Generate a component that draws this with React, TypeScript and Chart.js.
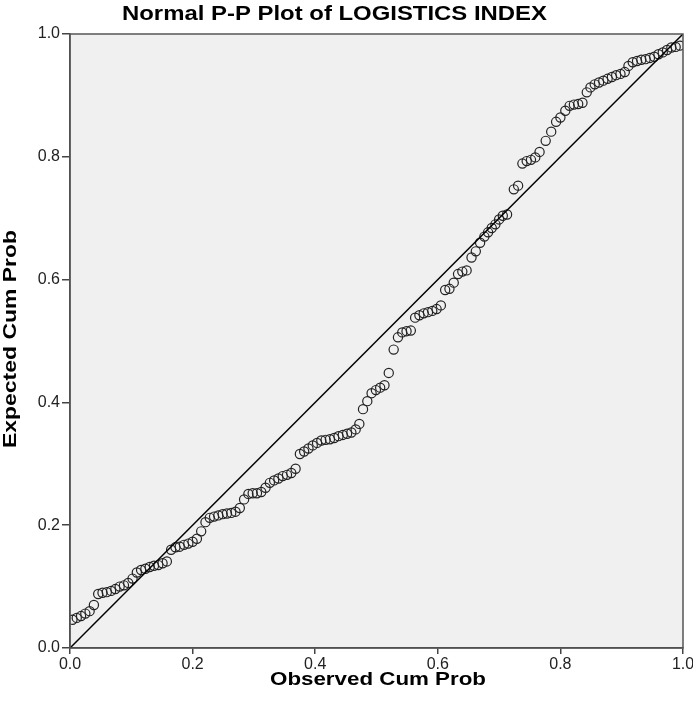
import { useEffect, useRef } from 'react';
import { Chart, registerables } from 'chart.js';

Chart.register(...registerables);

const chartTitle = 'Normal P-P Plot of LOGISTICS INDEX';
const xAxisTitle = 'Observed Cum Prob';
const yAxisTitle = 'Expected Cum Prob';
const tickValues = [0, 0.2, 0.4, 0.6, 0.8, 1.0];

const diagX = [0, 1];
const diagY = [0, 1];

const obsX = [
  0.004, 0.011, 0.018, 0.025, 0.032, 0.039, 0.046, 0.053, 0.060, 0.067,
  0.074, 0.081, 0.088, 0.095, 0.102, 0.109, 0.116, 0.123, 0.130, 0.137,
  0.144, 0.151, 0.158, 0.165, 0.172, 0.179, 0.186, 0.193, 0.200, 0.207,
  0.214, 0.221, 0.228, 0.235, 0.242, 0.249, 0.256, 0.263, 0.270, 0.277,
  0.284, 0.291, 0.298, 0.305, 0.312, 0.319, 0.326, 0.333, 0.340, 0.347,
  0.354, 0.361, 0.368, 0.375, 0.382, 0.389, 0.396, 0.403, 0.410, 0.417,
  0.424, 0.431, 0.438, 0.445, 0.452, 0.459, 0.466, 0.472, 0.478, 0.485,
  0.492, 0.499, 0.506, 0.513, 0.520, 0.528, 0.535, 0.542, 0.549, 0.556,
  0.563, 0.570, 0.577, 0.584, 0.591, 0.598, 0.605, 0.612, 0.619, 0.626,
  0.633, 0.640, 0.647, 0.655, 0.662, 0.669, 0.676, 0.682, 0.688, 0.694,
  0.700, 0.706, 0.713, 0.724, 0.731, 0.738, 0.745, 0.752, 0.759, 0.766,
  0.776, 0.785, 0.793, 0.800, 0.808, 0.815, 0.822, 0.829, 0.836, 0.843,
  0.849, 0.856, 0.863, 0.870, 0.877, 0.884, 0.891, 0.898, 0.905, 0.911,
  0.918, 0.925, 0.932, 0.939, 0.946, 0.953, 0.960, 0.967, 0.974, 0.981,
  0.988, 0.995,
];

const expY = [
  0.046, 0.049, 0.052, 0.056, 0.060, 0.070, 0.088, 0.090, 0.091, 0.093,
  0.096, 0.100, 0.102, 0.106, 0.113, 0.123, 0.127, 0.129, 0.132, 0.134,
  0.135, 0.138, 0.141, 0.160, 0.164, 0.165, 0.168, 0.170, 0.173, 0.178,
  0.190, 0.205, 0.212, 0.214, 0.216, 0.218, 0.219, 0.220, 0.222, 0.228,
  0.242, 0.251, 0.252, 0.252, 0.254, 0.261, 0.269, 0.273, 0.276, 0.280,
  0.282, 0.285, 0.292, 0.316, 0.320, 0.325, 0.330, 0.334, 0.338, 0.339,
  0.340, 0.342, 0.345, 0.347, 0.349, 0.351, 0.356, 0.365, 0.389, 0.402,
  0.415, 0.420, 0.424, 0.428, 0.448, 0.486, 0.506, 0.514, 0.516, 0.517,
  0.538, 0.542, 0.545, 0.547, 0.549, 0.552, 0.558, 0.583, 0.585, 0.595,
  0.609, 0.613, 0.615, 0.636, 0.646, 0.660, 0.670, 0.677, 0.684, 0.690,
  0.698, 0.704, 0.706, 0.747, 0.753, 0.789, 0.793, 0.795, 0.799, 0.808,
  0.826, 0.841, 0.857, 0.864, 0.875, 0.883, 0.885, 0.886, 0.888, 0.905,
  0.913, 0.918, 0.921, 0.924, 0.927, 0.930, 0.933, 0.935, 0.938, 0.948,
  0.954, 0.956, 0.958, 0.959, 0.961, 0.963, 0.967, 0.970, 0.974, 0.978,
  0.979, 0.981,
];

const FONT = '"Liberation Sans", Arial, sans-serif';

function drawStretched(ctx: CanvasRenderingContext2D, text: string, targetWidth: number) {
  const w = ctx.measureText(text).width;
  const sx = w > 0 ? targetWidth / w : 1;
  ctx.save();
  ctx.scale(sx, 1);
  ctx.fillText(text, 0, 0);
  ctx.restore();
}

const framePlugin = {
  id: 'spssFrame',
  beforeDraw(chart: any) {
    const { ctx, chartArea } = chart;
    const { left, top, right, bottom } = chartArea;
    ctx.save();
    ctx.fillStyle = '#f0f0f0';
    ctx.fillRect(left, top, right - left, bottom - top);
    ctx.restore();
  },
  afterDraw(chart: any) {
    const { ctx, chartArea } = chart;
    const { left, top, right, bottom } = chartArea;
    ctx.save();
    ctx.strokeStyle = '#555';
    ctx.lineWidth = 1.5;
    ctx.strokeRect(left, top, right - left, bottom - top);

    ctx.fillStyle = '#000';
    ctx.textAlign = 'center';
    ctx.textBaseline = 'middle';

    ctx.font = `bold 20px ${FONT}`;
    ctx.save();
    ctx.translate(334.5, 14);
    drawStretched(ctx, chartTitle, 425);
    ctx.restore();

    ctx.font = `bold 18px ${FONT}`;
    ctx.save();
    ctx.translate(378, 680);
    drawStretched(ctx, xAxisTitle, 216);
    ctx.restore();

    ctx.save();
    ctx.translate(11, 339);
    ctx.rotate(-Math.PI / 2);
    drawStretched(ctx, yAxisTitle, 218);
    ctx.restore();

    ctx.restore();
  },
};

export default function App() {
  const ref = useRef<HTMLCanvasElement | null>(null);

  useEffect(() => {
    document.body.style.margin = '0';
    const canvas = ref.current;
    if (!canvas) return;
    const points = obsX.map((x, i) => ({ x, y: expY[i] }));
    const diag = diagX.map((x, i) => ({ x, y: diagY[i] }));

    const chart = new Chart(canvas, {
      type: 'scatter',
      data: {
        datasets: [
          {
            type: 'line',
            data: diag,
            borderColor: '#000',
            borderWidth: 1.5,
            pointRadius: 0,
            fill: false,
          } as any,
          {
            type: 'scatter',
            data: points,
            pointStyle: 'circle',
            pointRadius: 4.6,
            borderColor: '#222',
            backgroundColor: 'rgba(0,0,0,0)',
            borderWidth: 1.2,
          } as any,
        ],
      },
      options: {
        responsive: false,
        animation: false,
        layout: { padding: { left: 0, top: 34, right: 10, bottom: 0 } },
        plugins: {
          legend: { display: false },
          title: { display: false },
          tooltip: { enabled: false },
        },
        scales: {
          x: {
            type: 'linear',
            min: 0,
            max: 1,
            afterFit(scale: any) {
              scale.height = 67;
              scale.paddingRight = 0;
              scale.paddingLeft = 0;
            },
            afterBuildTicks(scale: any) {
              scale.ticks = tickValues.map((v) => ({ value: v }));
            },
            ticks: {
              font: { family: FONT, size: 16 },
              color: '#222',
              padding: 1,
              maxRotation: 0,
              callback: (v: any) => Number(v).toFixed(1),
            },
            grid: {
              drawOnChartArea: false,
              drawTicks: true,
              tickLength: 6,
              color: '#444',
              lineWidth: 1.5,
            },
            border: { color: '#444', width: 1.5 },
          },
          y: {
            type: 'linear',
            min: 0,
            max: 1,
            afterFit(scale: any) {
              scale.width = 70;
              scale.paddingTop = 0;
              scale.paddingBottom = 0;
            },
            afterBuildTicks(scale: any) {
              scale.ticks = tickValues.map((v) => ({ value: v }));
            },
            ticks: {
              font: { family: FONT, size: 16 },
              color: '#222',
              padding: 2,
              callback: (v: any) => Number(v).toFixed(1),
            },
            grid: {
              drawOnChartArea: false,
              drawTicks: true,
              tickLength: 8,
              color: '#444',
              lineWidth: 1.5,
            },
            border: { color: '#444', width: 1.5 },
          },
        },
      },
      plugins: [framePlugin],
    });

    return () => chart.destroy();
  }, []);

  return <canvas ref={ref} width={693} height={715} style={{ display: 'block' }} />;
}
